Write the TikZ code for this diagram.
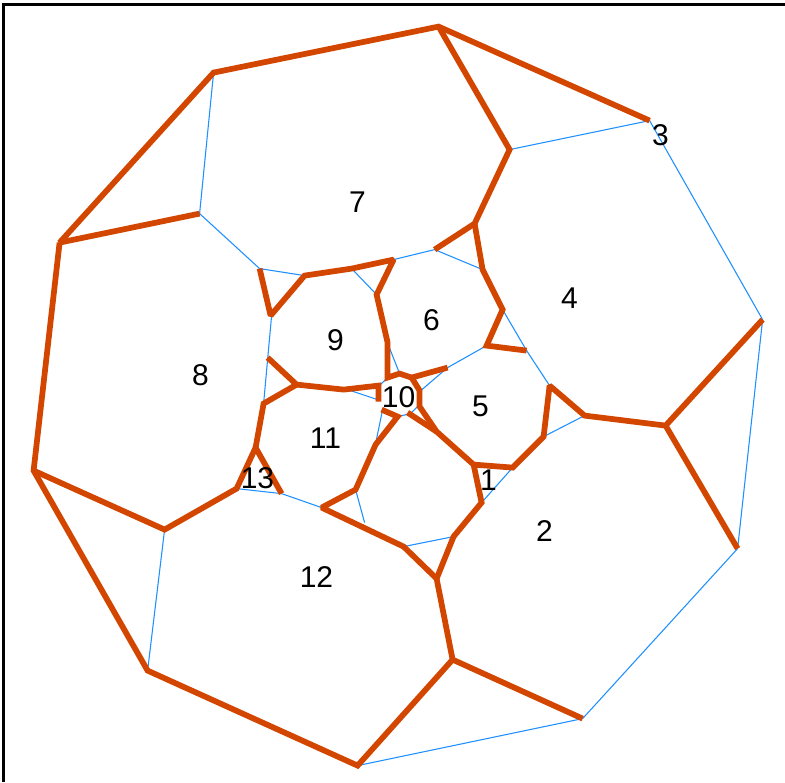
\documentclass[tikz,border=0pt]{standalone}
\usepackage{fontspec}
\setmainfont{Liberation Sans}
\definecolor{seamcol}{RGB}{210,70,0}
\definecolor{wirecol}{RGB}{30,144,255}
\tikzset{
  seam/.style={draw=seamcol, line width=4.3pt, line join=miter, miter limit=2, line cap=butt},
  wire/.style={draw=wirecol, line width=0.8pt},
  lab/.style={font=\fontsize{22.5}{25}\selectfont, inner sep=0pt, text=black},
  frame/.style={draw=black, line width=2.6pt}
}
\begin{document}
\begin{tikzpicture}[x=0.75pt,y=-0.75pt]
\useasboundingbox (0,0) rectangle (785,782);
\fill[white] (0,0) rectangle (785,782);
\coordinate (fa) at (3.5,782); \coordinate (fb) at (3.5,4.5); \coordinate (fc) at (785,4.5);
\draw[frame] (fa) -- (fb) -- (fc);
\begin{scope}[shift={(0.6,0.6)}]
% thin edges
\coordinate (a1) at (213,72); \coordinate (a2) at (199,213); \coordinate (a3) at (259,268); \coordinate (a4) at (304,275);
\coordinate (b1) at (509,149); \coordinate (b2) at (649,120); \coordinate (b3) at (762,319); \coordinate (b4) at (737,548); \coordinate (b5) at (582,718); \coordinate (b6) at (357,765);
\draw[wire] (a1) -- (a2) -- (a3) -- (a4);
\draw[wire] (b1) -- (b2) -- (b3) -- (b4) -- (b5) -- (b6);
\coordinate (c1) at (271,315); \coordinate (c2) at (263,403);
\draw[wire] (c1) -- (c2);
\coordinate (d1) at (147,670); \coordinate (d2) at (164,529);
\draw[wire] (d1) -- (d2);
\coordinate (e1) at (236,488); \coordinate (e2) at (281,493); \coordinate (e3) at (321,507);
\draw[wire] (e1) -- (e2) -- (e3);
\coordinate (f1) at (355,489); \coordinate (f2) at (364,522);
\draw[wire] (f1) -- (f2);
\coordinate (g1) at (403,546); \coordinate (g2) at (453,536);
\draw[wire] (g1) -- (g2);
\coordinate (h1) at (481,502); \coordinate (h2) at (512,467);
\draw[wire] (h1) -- (h2);
\coordinate (i1) at (543,436); \coordinate (i2) at (584,415);
\draw[wire] (i1) -- (i2);
\coordinate (j1) at (549,385); \coordinate (j2) at (526,350); \coordinate (j3) at (502,309);
\draw[wire] (j1) -- (j2) -- (j3);
\coordinate (k1) at (486,345); \coordinate (k2) at (447,367); \coordinate (k3) at (419,391);
\draw[wire] (k1) -- (k2) -- (k3);
\coordinate (l1) at (482,269); \coordinate (l2) at (434,249); \coordinate (l3) at (393,259);
\draw[wire] (l1) -- (l2) -- (l3);
\coordinate (m1) at (351,268); \coordinate (m2) at (376,294);
\draw[wire] (m1) -- (m2);
\coordinate (n1) at (386,340); \coordinate (n2) at (399,373);
\draw[wire] (n1) -- (n2);
\coordinate (o1) at (350,390); \coordinate (o2) at (377,399);
\draw[wire] (o1) -- (o2);
\coordinate (o3) at (382,409); \coordinate (o4) at (375,443);
\draw[wire] (o3) -- (o4);
\coordinate (p1) at (378,386); \coordinate (p2) at (386,378);
\draw[wire] (p1) -- (p2);
\coordinate (q1) at (397,416); \coordinate (q2) at (410,413); \coordinate (q3) at (419,404);
\draw[wire] (q1) -- (q2) -- (q3);
% thick seams
\draw[seam] (649,120) -- (438,26) -- (213,72) -- (59,242) -- (199,213);
\draw[seam] (438,26) -- (509,149) -- (474,223) -- (434,249);
\draw[seam] (474,223) -- (482,269) -- (502,309) -- (486,345) -- (526,350);
\draw[seam] (59,242) -- (33,470) -- (147,670) -- (357,765) -- (452,659) -- (582,718);
\draw[seam] (33,470) -- (164,529) -- (236,488) -- (255,447) -- (281,493);
\draw[seam] (255,447) -- (263,403) -- (296,384) -- (267,357);
\draw[seam] (296,384) -- (343,389) -- (378,385) -- (378,401);
\draw[seam] (452,659) -- (436,578) -- (403,546) -- (321,507) -- (355,489) -- (375,444) -- (397,416) -- (381,409);
\draw[seam] (436,578) -- (453,536) -- (481,502) -- (473,464) -- (512,467) -- (543,436) -- (549,385) -- (584,415) -- (665,425) -- (762,319);
\draw[seam] (665,425) -- (737,548);
\draw[seam] (473,464) -- (436,431) -- (419,406) -- (419,390) -- (411,377) -- (447,367);
\draw[seam] (436,431) -- (407,412);
\draw[seam] (411,377) -- (399,373) -- (387,377) -- (387,342) -- (376,294) -- (393,259) -- (351,268) -- (304,275) -- (270,315) -- (259,268);
\end{scope}
% labels
\node[lab] (n7) at (357.5,202.5) {7};
\node[lab] (n3) at (660.5,135.5) {3};
\node[lab] (n4) at (569.5,298.5) {4};
\node[lab] (n6) at (431.5,320.5) {6};
\node[lab] (n9) at (335.5,340.5) {9};
\node[lab] (n8) at (200.5,375.5) {8};
\node[lab] (n10) at (398.5,397.5) {10};
\node[lab] (n5) at (480.5,406.5) {5};
\node[lab] (n11) at (325.5,438.5) {11};
\node[lab] (n13) at (257.5,478.5) {13};
\node[lab] (n1) at (488.5,480.5) {1};
\node[lab] (n2) at (544.5,531.5) {2};
\node[lab] (n12) at (316.5,577.5) {12};
\end{tikzpicture}
\end{document}
